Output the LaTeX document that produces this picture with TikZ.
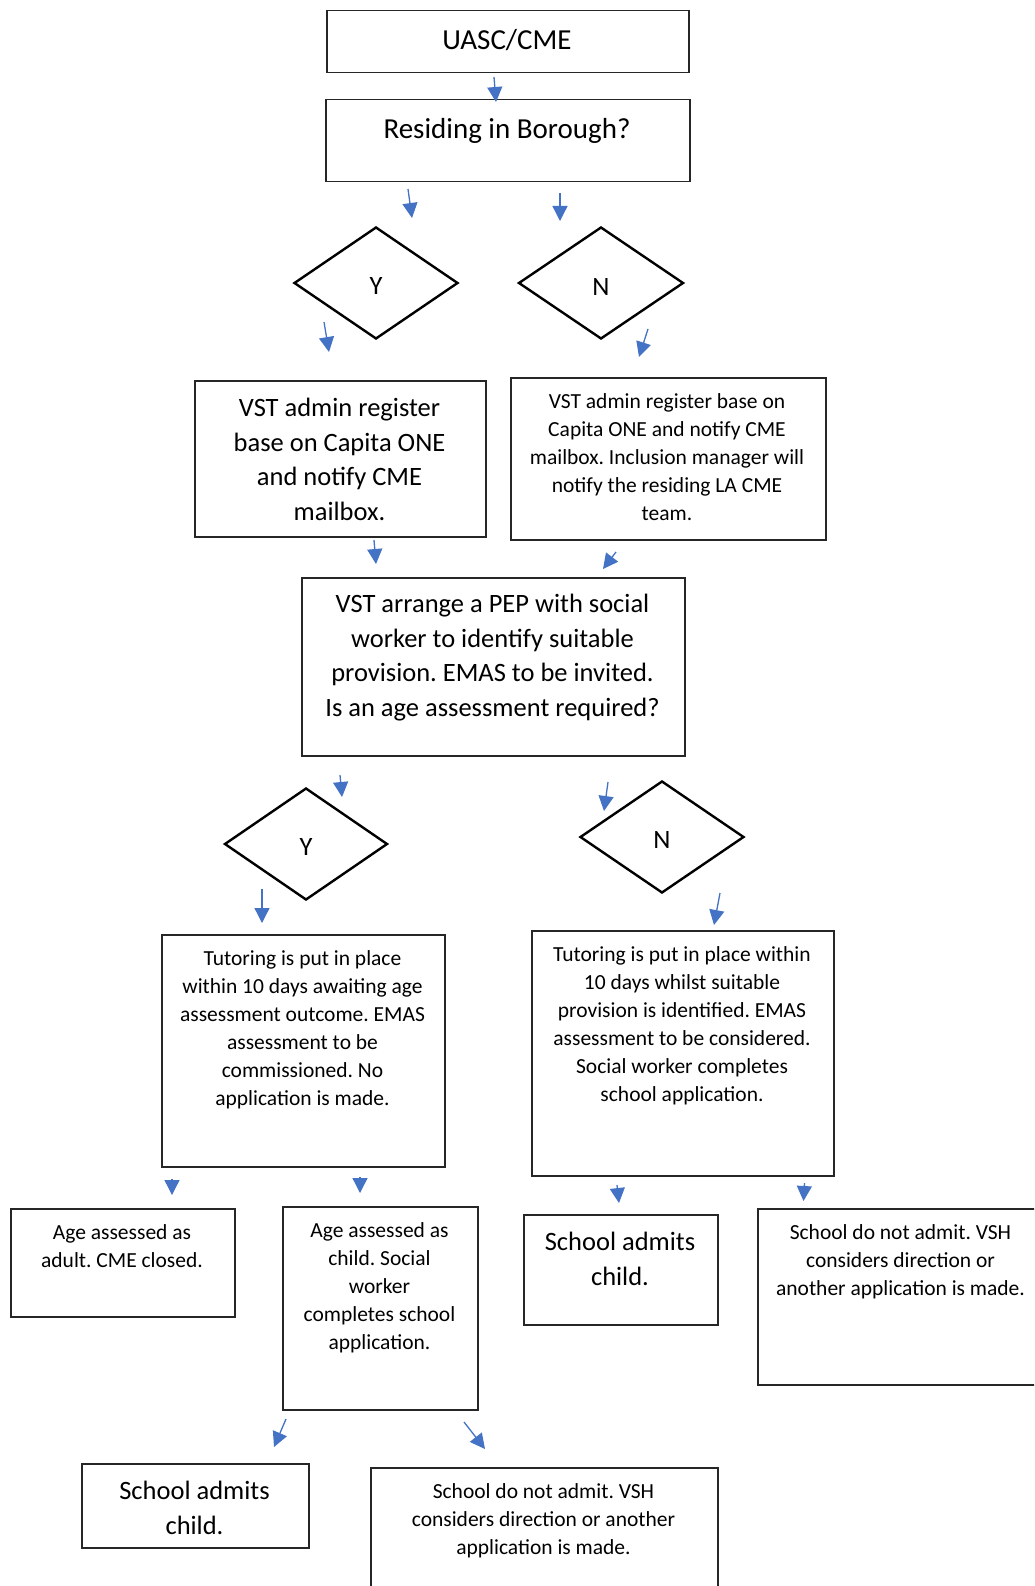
\documentclass[tikz,border=0pt]{standalone}
\usepackage{fontspec}
\setmainfont{Carlito}
\usetikzlibrary{shapes.geometric,arrows.meta}
\frenchspacing
\newcommand\myTitle{\fontsize{29}{36}\selectfont}
\newcommand\myBig{\fontsize{26.5}{34.7}\selectfont}
\newcommand\mySmall{\fontsize{21.5}{28}\selectfont}
\definecolor{arrblue}{HTML}{4472C4}
\tikzset{
  box/.style={draw=black!85, line width=1.5pt, inner sep=0pt, anchor=north west},
  dia/.style={draw=black, shape=diamond, line width=2.4pt, inner sep=0pt, font=\myBig},
  ttl/.style={anchor=base, inner sep=0pt, font=\myTitle},
  bigt/.style={anchor=base, inner sep=0pt, align=center, font=\myBig},
  smallt/.style={anchor=base, inner sep=0pt, align=center, font=\mySmall},
  flow/.style={draw=arrblue, line width=1.3pt, -{Triangle[width=15pt,length=15pt]}, arrblue}
}
\begin{document}
\begin{tikzpicture}[x=1pt,y=-1pt]
\clip (0,0) rectangle (1034,1586);
\fill[white] (0,0) rectangle (1034,1586);
% boxes
\node[box, minimum width=362pt, minimum height=62pt] (b1) at (326,10) {};
\node[box, minimum width=364pt, minimum height=82pt] (b2) at (325,99) {};
\node[box, minimum width=291pt, minimum height=156pt] (b5) at (194,380) {};
\node[box, minimum width=315pt, minimum height=162pt] (b6) at (510,377) {};
\node[box, minimum width=383pt, minimum height=178pt] (b7) at (301,577) {};
\node[box, minimum width=283pt, minimum height=232pt] (b10) at (161,934) {};
\node[box, minimum width=302pt, minimum height=245pt] (b11) at (531,930) {};
\node[box, minimum width=224pt, minimum height=108pt] (b12) at (10,1208) {};
\node[box, minimum width=195pt, minimum height=203pt] (b13) at (282,1206) {};
\node[box, minimum width=194pt, minimum height=110pt] (b14) at (523,1214) {};
\node[box, minimum width=287pt, minimum height=176pt] (b15) at (757,1208) {};
\node[box, minimum width=227pt, minimum height=84pt] (b16) at (81,1463) {};
\node[box, minimum width=347pt, minimum height=133pt] (b17) at (370,1467) {};
% diamonds
\node[dia, minimum width=164pt, minimum height=112pt] (d1) at (376,283) {};
\node[dia, minimum width=165pt, minimum height=112pt] (d2) at (601,283) {};
\node[dia, minimum width=163pt, minimum height=112pt] (d3) at (306,844) {};
\node[dia, minimum width=164pt, minimum height=112pt] (d4) at (662,837) {};
\node[ttl, font=\myBig] (l1) at (376,294.5) {Y};
\node[ttl, font=\myBig] (l2) at (601,295.5) {N};
\node[ttl, font=\myBig] (l3) at (306,855) {Y};
\node[ttl, font=\myBig] (l4) at (662,848) {N};
% texts (anchored at the baseline of the last line)
\node[ttl] (t1) at (507,50) {UASC/CME};
\node[ttl] (t2) at (507,139) {Residing in Borough?};
\node[bigt] (t5) at (339.5,520.5) {VST admin register\\base on Capita ONE\\and notify CME\\mailbox.};
\node[smallt] (t6) at (667,520) {VST admin register base on\\Capita ONE and notify CME\\mailbox. Inclusion manager will\\notify the residing LA CME\\team.};
\node[bigt] (t7) at (492.5,716.6) {VST arrange a PEP with social\\worker to identify suitable\\provision. EMAS to be invited.\\Is an age assessment required?};
\node[smallt] (t10) at (302.5,1105) {Tutoring is put in place\\within 10 days awaiting age\\assessment outcome. EMAS\\assessment to be\\commissioned. No\\application is made.};
\node[smallt] (t11) at (682,1101) {Tutoring is put in place within\\10 days whilst suitable\\provision is identified. EMAS\\assessment to be considered.\\Social worker completes\\school application.};
\node[smallt] (t12) at (122,1267) {Age assessed as\\adult. CME closed.};
\node[smallt] (t13) at (379.5,1349) {Age assessed as\\child. Social\\worker\\completes school\\application.};
\node[bigt] (t14) at (620,1285.5) {School admits\\child.};
\node[smallt] (t15) at (900.5,1295) {School do not admit. VSH\\considers direction or\\another application is made.};
\node[bigt] (t16) at (194.5,1534.5) {School admits\\child.};
\node[smallt] (t17) at (543.5,1554) {School do not admit. VSH\\considers direction or another\\application is made.};
% arrow end points
\path (494,77) coordinate (a1s) (496,102) coordinate (a1e)
      (408,189) coordinate (a2s) (412,218) coordinate (a2e)
      (560,193) coordinate (a3s) (560,221) coordinate (a3e)
      (324,322) coordinate (a4s) (329,352) coordinate (a4e)
      (648,329) coordinate (a5s) (639,357) coordinate (a5e)
      (374,540) coordinate (a6s) (376,564) coordinate (a6e)
      (616,552) coordinate (a7s) (603,569) coordinate (a7e)
      (340,775) coordinate (a8s) (342,797) coordinate (a8e)
      (608,782) coordinate (a9s) (604,811) coordinate (a9e)
      (262,889) coordinate (a10s) (262,923) coordinate (a10e)
      (720,893) coordinate (a11s) (714,925) coordinate (a11e)
      (172,1179) coordinate (a12s) (172,1195) coordinate (a12e)
      (360,1177) coordinate (a13s) (360,1193) coordinate (a13e)
      (617,1185) coordinate (a14s) (619,1203) coordinate (a14e)
      (804.5,1183) coordinate (a15s) (803.5,1201) coordinate (a15e)
      (286,1419) coordinate (a16s) (274,1447) coordinate (a16e)
      (464,1422) coordinate (a17s) (485,1449) coordinate (a17e);
\foreach \i in {1,2,3,4,5,6,7,8,9,10,11,12,13,14,15,16,17}
  \draw[flow] (a\i s) -- (a\i e);
\end{tikzpicture}
\end{document}
